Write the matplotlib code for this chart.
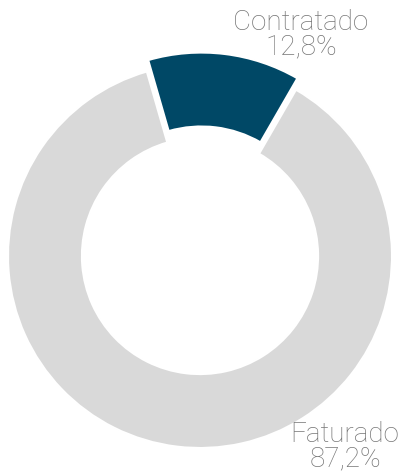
import matplotlib
matplotlib.use("Agg")
import matplotlib.pyplot as plt

categories = ["Contratado", "Faturado"]
values = [12.8, 87.2]
value_labels = ["12,8%", "87,2%"]
colors = ["#004866", "#d9d9d9"]

W, H = 402, 473
fig = plt.figure(figsize=(W/100, H/100), dpi=100)
cx, cy, R = 200, 256, 192
ax = fig.add_axes([(cx-R)/W, (H-cy-R)/H, 2*R/W, 2*R/H])
ax.pie(values, colors=colors, startangle=60, counterclock=True,
       explode=[0.06, 0], radius=1.0,
       wedgeprops=dict(width=0.385, edgecolor="white", linewidth=1.5))
ax.set_xlim(-1, 1)
ax.set_ylim(-1, 1)
ax.set_aspect("equal")
ax.axis("off")

tc = "#767676"
fs = 20
fig.text(301/W, 1-35/H, categories[0] + "\n" + value_labels[0], ha="center", va="center",
         color=tc, fontsize=fs, family="Roboto", fontweight="light", linespacing=0.88)
fig.text(345/W, 1-447/H, categories[1] + "\n" + value_labels[1], ha="center", va="center",
         color=tc, fontsize=fs, family="Roboto", fontweight="light", linespacing=0.88)

fig.savefig("out.png", dpi=100)
